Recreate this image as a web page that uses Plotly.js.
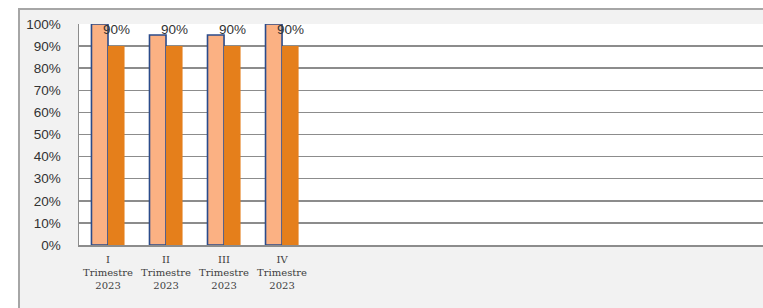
<!DOCTYPE html>
<html>
<head>
<meta charset="utf-8">
<script src="https://cdn.plot.ly/plotly-3.0.1.min.js"></script>
<style>
html,body{margin:0;padding:0;background:#ffffff;width:763px;height:308px;overflow:hidden;}
#wrap{position:absolute;left:18px;top:8px;width:760px;height:320px;border-left:2px solid #a6a6a6;border-top:2px solid #a6a6a6;background:#f2f2f2;overflow:hidden;}
#chart{position:absolute;left:0;top:0;width:743px;height:298px;}
</style>
</head>
<body>
<div id="wrap"><div id="chart"></div></div>
<script>
const categories = ["I<br>Trimestre<br>2023", "II<br>Trimestre<br>2023", "III<br>Trimestre<br>2023", "IV<br>Trimestre<br>2023"];
const lightValues = [1.00, 0.95, 0.95, 1.00];
const darkValues = [0.90, 0.90, 0.90, 0.90];
const yTickVals = [0,0.1,0.2,0.3,0.4,0.5,0.6,0.7,0.8,0.9,1.0];
const yTickText = ["0%","10%","20%","30%","40%","50%","60%","70%","80%","90%","100%"];

const xIdx = categories.map((c,i)=>i);

const traces = [
  {type:'bar', x:xIdx, y:lightValues, marker:{color:'#fbb183', line:{color:'#2b4b8a', width:1.6}}, hoverinfo:'none'},
  {type:'bar', x:xIdx, y:darkValues, marker:{color:'#e57f1b', line:{width:0}}, hoverinfo:'none'}
];

const annotations = darkValues.map((v,i)=>({
  x: i + 0.14, y: 0.977, xref:'x', yref:'y',
  text: Math.round(v*100) + '%', showarrow:false,
  font:{family:'Liberation Sans, Arial, sans-serif', size:13.5, color:'#333333'},
  xanchor:'center', yanchor:'middle'
}));

const layout = {
  width:743, height:298,
  margin:{l:59, r:0, t:14, b:63},
  paper_bgcolor:'rgba(0,0,0,0)',
  plot_bgcolor:'#ffffff',
  showlegend:false,
  barmode:'group',
  bargap:0.43,
  bargroupgap:0,
  xaxis:{
    range:[-0.5, 11.29],
    tickvals:xIdx, ticktext:categories,
    showgrid:false, zeroline:false,
    showline:true, linecolor:'#8c8c8c', linewidth:1.5,
    ticks:'', ticklabelstandoff:4,
    tickfont:{family:'DejaVu Serif, serif', size:10, color:'#404040'},
    fixedrange:true
  },
  yaxis:{
    range:[0,1], tickvals:yTickVals, ticktext:yTickText,
    showgrid:true, gridcolor:'#8c8c8c', gridwidth:1.5,
    zeroline:false, showline:true, linecolor:'#8c8c8c', linewidth:1.5,
    ticks:'', ticklabelstandoff:14,
    tickfont:{family:'Liberation Sans, Arial, sans-serif', size:13.5, color:'#333333'},
    fixedrange:true
  },
  annotations: annotations
};

Plotly.newPlot('chart', traces, layout, {staticPlot:true, displayModeBar:false});
</script>
</body>
</html>
